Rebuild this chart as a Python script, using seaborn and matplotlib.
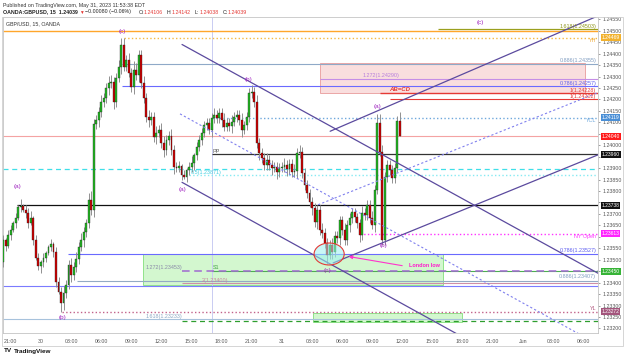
import numpy as np
import pandas as pd
import matplotlib
matplotlib.use("Agg")
import matplotlib.pyplot as plt
import matplotlib.transforms as mtransforms
from matplotlib.patches import Rectangle, Ellipse, FancyArrowPatch
import seaborn as sns

# ---------------- data (15-min GBP/USD bars, bar 0 = 29 May 21:00) ----------------
first_bar = -3
first_open = 1.23490
closes = [
    1.23586, 1.23560, 1.23608, 1.23630, 1.23660, 1.23682, 1.23730, 1.23735, 1.23717, 1.23704,
    1.23660, 1.23682, 1.23586, 1.23508, 1.23473, 1.23490, 1.23508, 1.23530, 1.23556, 1.23569,
    1.23534, 1.23403, 1.23359, 1.23311, 1.23355, 1.23390, 1.23477, 1.23433, 1.23468, 1.23503,
    1.23556, 1.23586, 1.23621, 1.23660, 1.23761, 1.23717, 1.24093, 1.24110, 1.24145, 1.24189,
    1.24206, 1.24250, 1.24272, 1.24276, 1.24189, 1.24294, 1.24342, 1.24438, 1.24342, 1.24372,
    1.24316, 1.24254, 1.24329, 1.24307, 1.24394, 1.24272, 1.24206, 1.24123, 1.24110, 1.24123,
    1.24036, 1.24054, 1.24067, 1.24010, 1.23979, 1.24023, 1.24041, 1.23979, 1.23905, 1.23901,
    1.23909, 1.23870, 1.23861, 1.23892, 1.23905, 1.23922, 1.23957, 1.23993, 1.24023, 1.24054,
    1.24088, 1.24097, 1.24067, 1.24119, 1.24132, 1.24119, 1.24141, 1.24110, 1.24080, 1.24097,
    1.24084, 1.24102, 1.24123, 1.24132, 1.24110, 1.24067, 1.24088, 1.24123, 1.24228, 1.24233,
    1.24189, 1.24010, 1.23966, 1.23944, 1.23914, 1.23936, 1.23914, 1.23901, 1.23905, 1.23883,
    1.23901, 1.23905, 1.23914, 1.23896, 1.23918, 1.23883, 1.23887, 1.23966, 1.23971, 1.23879,
    1.23826, 1.23791, 1.23752, 1.23726, 1.23665, 1.23717, 1.23630, 1.23617, 1.23573, 1.23521,
    1.23564, 1.23534, 1.23604, 1.23595, 1.23673, 1.23630, 1.23586, 1.23652, 1.23682, 1.23708,
    1.23686, 1.23660, 1.23608, 1.23704, 1.23695, 1.23739, 1.23682, 1.23652, 1.23805, 1.24097,
    1.23971, 1.23586, 1.23861, 1.23914, 1.23892, 1.23857, 1.23901, 1.24106, 1.24039,
]
# wick lengths in pips (one digit per bar)
upper_wick_pips = ("2122121312 2312212112 1222322323 2322342223 2233223332 3243223232 "
                   "2323322322 2121231222 2222322232 2322232223 2322232222 2232223232 "
                   "2222222322 2322223222 2223222324 432222224")
lower_wick_pips = ("2212121212 2121232212 2214322322 2232223232 2232322322 2232322232 "
                   "2322322232 2212223222 2223222322 2322232222 2232222323 2223222322 "
                   "2223232224 2322322232 2232222232 222222220")

time_tick_bars = [0, 12, 24, 36, 48, 60, 72, 84, 96, 108, 120, 132, 144, 156, 168, 180, 192, 204, 216, 228]
time_tick_labels = ["21:00", "30", "03:00", "06:00", "09:00", "12:00", "15:00", "18:00", "21:00", "31",
                    "03:00", "06:00", "09:00", "12:00", "15:00", "18:00", "21:00", "Jun", "03:00", "06:00"]
price_ticks = [1.23200, 1.23250, 1.23300, 1.23350, 1.23400, 1.23450, 1.23500, 1.23550, 1.23600,
               1.23650, 1.23700, 1.23750, 1.23800, 1.23850, 1.23900, 1.23950, 1.24000, 1.24050,
               1.24100, 1.24150, 1.24200, 1.24250, 1.24300, 1.24350, 1.24400, 1.24450, 1.24500, 1.24550]

# key levels
orange_top = 1.24500
ext_1618 = 1.24506
yest_high = 1.24469
fib_0886_hi = 1.24355
fib_1272_hi = 1.24290
fib_0786_hi = 1.24257
abcd_1 = 1.24228
abcd_2 = 1.24202
ycl = 1.24119
last_price = 1.24040
pivot_pp = 1.23960
half_dash = 1.23895
half_fib = 1.23871
black_lvl = 1.23738
ny_open = 1.23613
fib_0786_lo = 1.23527
s1 = 1.23450
fib_0886_lo = 1.23407
fib_2 = 1.23400
blue_lo = 1.23385
yest_low = 1.23272
fib_1618_lo = 1.23240
green_dash = 1.23232

# trendline anchors (bar, price)
channel_down_upper = [(68.2, 1.24440), (233.9, 1.23441)]
channel_down_lower = [(68.2, 1.23838), (177.4, 1.23178)]
channel_up_upper = [(127.2, 1.24061), (233.9, 1.24565)]
channel_up_lower = [(128.4, 1.23486), (233.9, 1.23958)]
dotted_down = [(67.4, 1.24137), (228.8, 1.23161)]
dotted_up = [(122.4, 1.23740), (233.9, 1.24230)]

wave_labels = ["(a)", "(b)", "(c)", "(a)", "(b)", "(a)", "(b)", "(e)", "(c)"]
wave_bars = [2.5, 20.4, 44.3, 68.2, 94.5, 145.9, 148.3, 126.0, 186.9]
wave_prices = [1.23818, 1.23248, 1.24495, 1.23805, 1.24289, 1.24167, 1.23560, 1.23455, 1.24538]

axis_box_values = [1.24469, 1.24119, 1.24040, 1.23960, 1.23738, 1.23613, 1.23450, 1.23272]
axis_box_colors = ["#f2b22e", "#4a8fd6", "#ff1a1a", "#111111", "#111111", "#ff22ff", "#36b336", "#a3557c"]

# ---------------- build frame ----------------
n = len(closes)
bars = np.arange(first_bar, first_bar + n)
opens = [first_open] + closes[:-1]
up = np.array([int(c) for c in upper_wick_pips.replace(" ", "")]) * 0.0001
lo = np.array([int(c) for c in lower_wick_pips.replace(" ", "")]) * 0.0001
df = pd.DataFrame({"bar": bars, "open": opens, "close": closes})
df["top"] = df[["open", "close"]].max(axis=1)
df["bottom"] = df[["open", "close"]].min(axis=1)
df["high"] = df["top"] + up
df["low"] = df["bottom"] - lo
df["dir"] = np.where(df["close"] >= df["open"], "up", "down")

sns.set_theme(style="white")
plt.rcParams["font.family"] = ["Liberation Sans", "DejaVu Sans"]

W, H = 625, 358
fig = plt.figure(figsize=(W / 100, H / 100), dpi=100)
fig.patch.set_facecolor("white")
ax = fig.add_axes([3 / W, 25 / H, 595 / W, 316 / H])
ax.set_facecolor("white")
XMIN, XMAX = -3.11, 233.9
ax.set_xlim(XMIN, XMAX)
ax.set_ylim(1.23180, 1.24560)

# rectangles (zones)
ax.add_patch(Rectangle((123.2, 1.24228), 105.6, 0.00131, facecolor="#f9d9d9", edgecolor="#e89a9a",
                       lw=0.7, alpha=0.85, zorder=1))
ax.add_patch(Rectangle((52.7, 1.23390), 119.5, 0.00135, facecolor="#c9f5c4", edgecolor="#7bdc72",
                       lw=0.7, alpha=0.8, zorder=1))
ax.add_patch(Rectangle((120.4, 1.23228), 59.4, 0.00039, facecolor="#c9f5c4", edgecolor="#7bdc72",
                       lw=0.7, alpha=0.8, zorder=1))

# session line
ax.axvline(80, color="#c9ccf2", lw=0.7, zorder=1)


def hline(p, start, color, ls="-", lw=0.8, z=2):
    ax.plot([start, XMAX], [p, p], color=color, ls=ls, lw=lw, zorder=z, solid_capstyle="butt")


hline(orange_top, XMIN, "#ffa62b", lw=1.0)
hline(ext_1618, 170, "#9aa01e", lw=0.9)
hline(yest_high, 45, "#f5b942", ls=":", lw=1.0)
hline(fib_0886_hi, 44.3, "#8fa9c8")
hline(fib_1272_hi, 123, "#c58ee6")
hline(fib_0786_hi, 44.3, "#6a6aff")
hline(abcd_1, 147, "#e53935", lw=1.0)
hline(abcd_2, 151, "#e53935", lw=0.8)
hline(ycl, 80, "#6fa8dc", ls=":", lw=1.0)
hline(last_price, XMIN, "#f4a3a3")
hline(pivot_pp, 80, "#333333", lw=0.9)
hline(half_dash, XMIN, "#3fdfe8", ls=(0, (4, 3)), lw=0.9)
hline(half_fib, 71, "#86eaf2", ls=":", lw=1.0)
hline(black_lvl, 2.5, "#111111", lw=0.9)
hline(ny_open, 139, "#ff33ff", ls=":", lw=1.0)
hline(fib_0786_lo, 22.8, "#6a6aff")
hline(s1, 80, "#4caf50", lw=0.8)
hline(s1, 68, "#a06ad0", ls=(0, (5, 3)), lw=1.1, z=3)
hline(fib_0886_lo, 26.4, "#93aac4")
hline(fib_2, 68, "#cf8fa6")
hline(blue_lo, XMIN, "#7b7bff")
hline(yest_low, 20.4, "#c2628a", ls=":", lw=1.0)
hline(fib_1618_lo, XMIN, "#a7c2dc")
hline(green_dash, 68, "#2e9e2e", ls=(0, (4, 3)), lw=0.9)

# candles
ax.vlines(df["bar"], df["low"], df["high"], color="#909090", lw=0.7, zorder=3)
body_colors = df["dir"].map({"up": "#22bb22", "down": "#d00000"})
ax.bar(df["bar"], (df["top"] - df["bottom"]).clip(lower=0.000012), bottom=df["bottom"], width=0.75,
       color=body_colors, edgecolor="#1e1e1e", linewidth=0.25, zorder=4)

# trendlines with seaborn
for pts, color, ls, lw in [
    (channel_down_upper, "#5b4a9e", "-", 0.9),
    (channel_down_lower, "#5b4a9e", "-", 0.9),
    (channel_up_upper, "#5b4a9e", "-", 0.9),
    (channel_up_lower, "#5b4a9e", "-", 0.9),
    (dotted_down, "#8080ee", (0, (2, 2)), 0.8),
    (dotted_up, "#8080ee", (0, (2, 2)), 0.8),
]:
    sns.lineplot(x=[pts[0][0], pts[1][0]], y=[pts[0][1], pts[1][1]], ax=ax, color=color,
                 linestyle=ls, lw=lw, zorder=5, legend=False, sort=False)

# ellipse & arrow
ax.add_patch(Ellipse((126.8, 1.23525), 12, 0.00096, facecolor=(0.62, 0.95, 0.95, 0.55),
                     edgecolor="#e53935", lw=0.8, zorder=6))
ax.add_patch(FancyArrowPatch((157, 1.23472), (133.5, 1.23516), arrowstyle="-|>", mutation_scale=5,
                             color="#ff33cc", lw=0.8, zorder=6))
ax.text(158.5, 1.23474, "London low", color="#ff1acc", fontsize=4, fontweight="bold", va="center",
        ha="left", zorder=7)

# level labels
fs = 3.9
RX = 233.2


def rlabel(p, s, color, va="bottom", dy=0.00002):
    ax.text(RX, p + (dy if va == "bottom" else -dy), s, color=color, fontsize=fs, ha="right", va=va, zorder=7)


rlabel(ext_1618, "1.618(1.24503)", "#8e9418")
rlabel(yest_high, "YH", "#f0a830", va="top")
rlabel(fib_0886_hi, "0.886(1.24355)", "#7f9cc0")
rlabel(fib_0786_hi, "0.786(1.24257)", "#5b5bf0")
rlabel(abcd_1, "1(1.24228)", "#e53935")
rlabel(abcd_2, "1(1.24202)", "#e53935")
rlabel(ycl, "YCL", "#6fa8dc", va="top")
rlabel(ny_open, "NY Open", "#ff33ff", va="top")
rlabel(fib_0786_lo, "0.786(1.23527)", "#5b5bf0")
rlabel(fib_0886_lo, "0.886(1.23407)", "#7f9cc0", va="bottom", dy=0.0001)
rlabel(yest_low, "YL", "#b0577e")
ax.text(140, fib_1272_hi + 0.00002, "1.272(1.24290)", color="#b77ddc", fontsize=fs, va="bottom", zorder=7)
ax.text(150.5, abcd_1 + 0.00004, "AB=CD", color="#e53935", fontsize=4.3, fontweight="bold",
        fontstyle="italic", va="bottom", zorder=7)
ax.text(80.5, pivot_pp + 0.00003, "PP", color="#555555", fontsize=fs, va="bottom", zorder=7)
ax.text(71.5, half_fib - 0.00001, "0.5(1.23871)", color="#43cfe0", fontsize=fs, va="bottom", zorder=7)
ax.text(53.5, s1 + 0.00004, "1.272(1.23453)", color="#8a8aa8", fontsize=fs, va="bottom", zorder=7)
ax.text(80.5, s1 + 0.00004, "S1", color="#43a047", fontsize=fs, va="bottom", zorder=7)
ax.text(76, fib_2 - 0.00001, "2(1.23400)", color="#c9869e", fontsize=fs, va="bottom", zorder=7)
ax.text(53.5, fib_1618_lo + 0.00002, "1.618(1.23233)", color="#8aa6c2", fontsize=fs, va="bottom", zorder=7)

for t, b, p in zip(wave_labels, wave_bars, wave_prices):
    ax.text(b, p, t, color="#a024c0", fontsize=4.6, ha="center", va="center", zorder=7)

# axes styling
ax.yaxis.tick_right()
hide = [any(abs(t - v) < 0.00013 for v in axis_box_values) for t in price_ticks]
ax.set_yticks(price_ticks)
ax.set_yticklabels(["" if h else f"{t:.5f}" for t, h in zip(price_ticks, hide)])
ax.set_xticks(time_tick_bars)
ax.set_xticklabels(time_tick_labels)
ax.tick_params(axis="both", labelsize=3.8, colors="#555555", length=1.5, width=0.4, pad=1.5)
ax.tick_params(axis="x", pad=2.5)
ax.tick_params(axis="y", right=True, left=False)
for sp in ax.spines.values():
    sp.set_color("#c4c4c4")
    sp.set_linewidth(0.6)
ax.grid(False)

trans = mtransforms.blended_transform_factory(ax.transAxes, ax.transData)
for v, c in zip(axis_box_values, axis_box_colors):
    ax.text(1.006, v, f"{v:.5f}", transform=trans, fontsize=3.6, color="white", ha="left", va="center",
            bbox=dict(boxstyle="square,pad=0.2", fc=c, ec="none"), clip_on=False, zorder=8)

# outer frame
fig.add_artist(Rectangle((2 / W, 1 - 346 / H), 621 / W, 329 / H, transform=fig.transFigure,
                         fill=False, ec="#cfcfcf", lw=0.6))

# header texts
fig.text(3 / W, 1 - 5 / H, "Published on TradingView.com, May 31, 2023 11:53:38 EDT", fontsize=3.8,
         color="#333333", va="center")
hy = 1 - 12 / H
fig.text(3 / W, hy, "OANDA:GBPUSD, 15  1.24039", fontsize=3.8, color="#222222", va="center",
         fontweight="bold")
fig.text(79 / W, hy, "\u25bc", fontsize=3.4, color="#e53935", va="center")
fig.text(85 / W, hy, "\u22120.00080 (\u22120.06%)", fontsize=3.8, color="#222222", va="center")
for lab, val, x in [("O:", "1.24106", 139), ("H:", "1.24142", 167), ("L:", "1.24038", 195), ("C:", "1.24039", 223)]:
    fig.text(x / W, hy, lab, fontsize=3.8, color="#222222", va="center")
    fig.text((x + 5) / W, hy, val, fontsize=3.8, color="#e53935", va="center")
fig.text(6 / W, 1 - 24 / H, "GBP/USD, 15, OANDA", fontsize=3.8, color="#333333", va="center")
fig.text(4 / W, 1 - 351 / H, "TV", fontsize=4.6, color="#111111", va="center", fontweight="bold")
fig.text(14 / W, 1 - 351 / H, "TradingView", fontsize=4.6, color="#111111", va="center", fontweight="bold")

fig.savefig("out.png", dpi=100, facecolor="white")
